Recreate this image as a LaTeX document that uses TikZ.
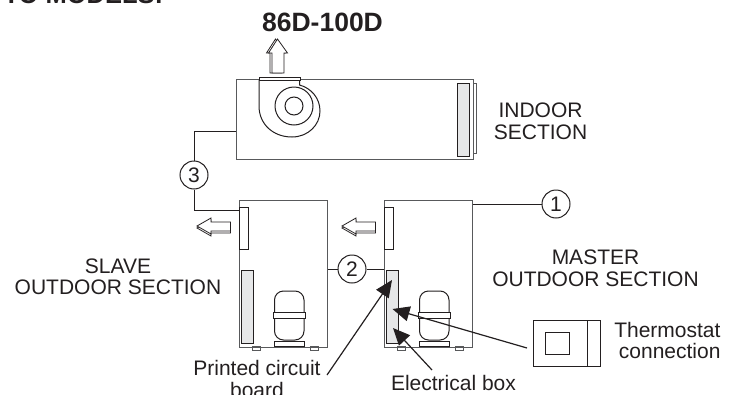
\documentclass[tikz,border=0pt]{standalone}
\usepackage{fontspec}
\setmainfont{Liberation Sans}
\usetikzlibrary{arrows.meta}
\definecolor{inkdark}{HTML}{231F20}
\definecolor{boxgray}{HTML}{58595B}
\definecolor{coilgray}{HTML}{E6E7E8}
\begin{document}
\begin{tikzpicture}[x=1pt, y=-1pt, line width=1pt, inkdark,
  every node/.style={font=\fontsize{21}{21.5}\selectfont, inner sep=0pt},
  unitbox/.style={draw=boxgray, fill=white, anchor=north west, minimum width=88, minimum height=147},
  panelbox/.style={draw, fill=white, anchor=north west, minimum width=8.5, minimum height=42},
  coilbox/.style={draw, fill=coilgray, anchor=north west, minimum width=11.5, minimum height=73},
  numbered/.style={circle, draw, fill=white, minimum size=28},
  hollow/.style={draw, fill=white, line width=0.8pt},
  pointer/.style={line width=1.2pt, -{Triangle[length=17pt,width=15pt]}}]
\useasboundingbox (0,0) rectangle (731,394);
% headings, cut by the page edge
\node[font=\fontsize{25.5}{26}\selectfont\bfseries, anchor=base west] at (3,3) {TO MODELS:};
\node[font=\fontsize{26.5}{27}\selectfont\bfseries, anchor=base] (title) at (322.5,31) {86D-100D};
% up arrow
\draw[hollow] (275.5,39)--(266.5,53)--(270,53)--(270,73)--(282,73)--(282,53)--(285.5,53)--cycle;
\draw[hollow] (277.5,39)--(268.5,53)--(272,53)--(272,73)--(284,73)--(284,53)--(287.5,53)--cycle;
% indoor section
\draw[boxgray] (473,83) -- (476.5,83) -- (476.5,153) -- (473,153);
\node[draw=boxgray, anchor=north west, minimum width=237, minimum height=80] (indoor) at (236,79) {};
\node[coilbox, minimum width=12, minimum height=73] (indoorcoil) at (457,83) {};
\draw[fill=white] (259,80) -- (259,106) .. controls (259,124) and (273,137) .. (292,137)
  .. controls (308,137) and (320,125) .. (320,111) .. controls (320,98) and (311,88) .. (299.5,85) -- (299.5,80);
\node[draw, anchor=north west, fill=white, minimum width=40.5, minimum height=3.5] (outlet) at (259,76.5) {};
\node[circle, draw, minimum size=38] (fanouter) at (294,106) {};
\node[circle, draw, minimum size=18] (faninner) at (294,106) {};
\node[align=center] (indoorlabel) at (540.5,121.5) {INDOOR\\SECTION};
% circled numbers and wires
\node[unitbox] (slave) at (239,199.5) {};
\node[unitbox] (master) at (384,199.5) {};
\node[numbered] (three) at (194,175) {3};
\node[numbered] (two) at (352,269) {2};
\node[numbered] (one) at (556,204) {1};
\coordinate (indoorwire) at (236,131);
\coordinate (slavewire) at (239,210);
\draw (indoorwire) -| (three.north);
\draw (three.south) |- (slavewire);
\draw (two.west) -- (two.west -| slave.east);
\draw (two.east) -- (two.east -| master.west);
\draw (one.west) -- (one.west -| master.east);
% fan panels and coils
\node[panelbox] (slavepanel) at (239,207) {};
\node[panelbox] (masterpanel) at (384,207) {};
\node[coilbox] (slavecoil) at (241,270) {};
\node[coilbox] (elecbox) at (386,270) {};
% compressors and feet
\foreach \ux in {0,145} {
  \draw[boxgray, xshift=\ux] (252,346.5) rectangle (260,350);
  \draw[boxgray, xshift=\ux] (310,346.5) rectangle (318,350);
  \draw[rounded corners=9, fill=white, xshift=\ux] (274.5,291) rectangle (304,340);
  \draw[fill=white, xshift=\ux] (273,312) rectangle (305,318);
  \draw[xshift=\ux] (274.5,341) rectangle (304,346);
  \draw[hollow, xshift=\ux] (197,228)--(211,220)--(211,224)--(230.5,224)--(230.5,233)--(211,233)--(211,236)--cycle;
  \draw[hollow, xshift=\ux] (197,226)--(211,218)--(211,222)--(230.5,222)--(230.5,231)--(211,231)--(211,234)--cycle;
}
% labels
\node[align=center] (masterlabel) at (595.5,268.5) {MASTER\\OUTDOOR SECTION};
\node[align=center] (slavelabel) at (118,277) {SLAVE\\OUTDOOR SECTION};
\node[align=center] (pcblabel) at (257,379) {Printed circuit\\board};
\node[anchor=base] (eleclabel) at (453.5,390) {Electrical box};
\node[align=right, anchor=east] (thermolabel) at (721,340.5) {Thermostat\\connection};
% thermostat
\node[draw, anchor=north west, minimum width=67, minimum height=46] (thermostat) at (533,320) {};
\node[draw, anchor=north west, minimum width=24, minimum height=22] (display) at (545,332) {};
\draw (587,320) -- (587,366);
% pointers
\coordinate (pcbfoot) at (327,375);
\coordinate (pcbtip) at (392,280);
\coordinate (elecfoot) at (432,370);
\coordinate (electip) at (393,328);
\coordinate (thermofoot) at (527,348);
\coordinate (thermotip) at (392.5,309);
\draw[pointer] (pcbfoot) -- (pcbtip);
\draw[pointer] (elecfoot) -- (electip);
\draw[pointer] (thermofoot) -- (thermotip);
\end{tikzpicture}
\end{document}
